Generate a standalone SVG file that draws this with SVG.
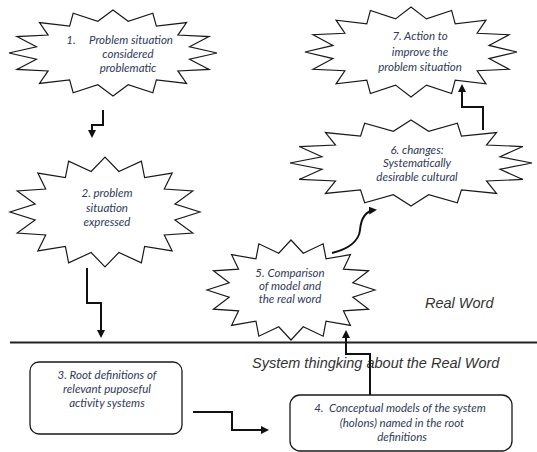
<svg xmlns="http://www.w3.org/2000/svg" xmlns:xlink="http://www.w3.org/1999/xlink" width="537" height="452" viewBox="0 0 537 452">
<style>
.star{fill:#fff;stroke:#1a1a1a;stroke-width:1.2;stroke-linejoin:miter}
.box{fill:#fff;stroke:#1a1a1a;stroke-width:1.3}
.lbl{font-family:Lato,"Open Sans","Liberation Sans",sans-serif;font-style:italic;font-size:11.5px;fill:#2f3a5a;text-anchor:middle}
.big{font-family:"Liberation Sans",Arial,sans-serif;font-style:italic;font-size:14.5px;fill:#333}
.conn{fill:none;stroke:#111;stroke-width:2}
</style>
<defs>
<polygon id="starShape" class="star" vector-effect="non-scaling-stroke" points="100,0 73.6,14.6 92.4,38.3 62.4,41.7 70.7,70.7 41.7,62.4 38.3,92.4 14.6,73.6 0,100 -14.6,73.6 -38.3,92.4 -41.7,62.4 -70.7,70.7 -62.4,41.7 -92.4,38.3 -73.6,14.6 -100,0 -73.6,-14.6 -92.4,-38.3 -62.4,-41.7 -70.7,-70.7 -41.7,-62.4 -38.3,-92.4 -14.6,-73.6 0,-100 14.6,-73.6 38.3,-92.4 41.7,-62.4 70.7,-70.7 62.4,-41.7 92.4,-38.3 73.6,-14.6"/>
<marker id="arr" markerWidth="8" markerHeight="8" refX="6" refY="4" orient="auto" markerUnits="userSpaceOnUse">
<path d="M0,0 L8,4 L0,8 z" fill="#111"/>
</marker>
</defs>

<line x1="10" y1="342.5" x2="537" y2="342.5" stroke="#222" stroke-width="2"/>
<text class="big" x="425" y="308">Real Word</text>
<text class="big" x="252" y="368">System thingking about the Real Word</text>

<g id="node1">
<use xlink:href="#starShape" transform="translate(113,53) scale(1.04,0.43)"/>
<text class="lbl"><tspan x="71" y="44">1.</tspan><tspan x="131" y="44">Problem situation</tspan><tspan x="128" y="58">considered</tspan><tspan x="128" y="72">problematic</tspan></text>
</g>

<g id="node2">
<use xlink:href="#starShape" transform="translate(105,212) scale(0.95,0.55)"/>
<text class="lbl"><tspan x="107" y="197">2. problem</tspan><tspan x="107" y="212">situation</tspan><tspan x="107" y="226">expressed</tspan></text>
</g>

<g id="node7">
<use xlink:href="#starShape" transform="translate(411,52) scale(1.06,0.45)"/>
<text class="lbl"><tspan x="420" y="40">7. Action to</tspan><tspan x="420" y="56">improve the</tspan><tspan x="420" y="71">problem situation</tspan></text>
</g>

<g id="node6">
<use xlink:href="#starShape" transform="translate(411,163) scale(1.21,0.43)"/>
<text class="lbl"><tspan x="417" y="154">6. changes:</tspan><tspan x="417" y="167">Systematically</tspan><tspan x="417" y="181">desirable cultural</tspan></text>
</g>

<g id="node5">
<use xlink:href="#starShape" transform="translate(291,290) scale(0.84,0.50)"/>
<text class="lbl"><tspan x="290" y="277">5. Comparison</tspan><tspan x="290" y="290">of model and</tspan><tspan x="290" y="303">the real word</tspan></text>
</g>

<g id="node3">
<rect class="box" x="30" y="362" width="152" height="72" rx="9"/>
<text class="lbl"><tspan x="107" y="379">3. Root definitions of</tspan><tspan x="107" y="393">relevant puposeful</tspan><tspan x="107" y="407">activity systems</tspan></text>
</g>

<g id="node4">
<rect class="box" x="290" y="395" width="222" height="56" rx="10"/>
<text class="lbl" xml:space="preserve"><tspan x="400" y="412">4.  Conceptual models of the system</tspan><tspan x="402" y="427">(holons) named in the root</tspan><tspan x="402" y="441">definitions</tspan></text>
</g>

<g id="connectors">
<path class="conn" d="M103,110 V125 H92 V136" marker-end="url(#arr)"/>
<path class="conn" d="M87,268 V303 H101 V336" marker-end="url(#arr)"/>
<path class="conn" d="M193,412 H232 V430 H267" marker-end="url(#arr)"/>
<path class="conn" d="M370,395 V354 H346 V332" marker-end="url(#arr)"/>
<path class="conn" d="M332,253 C348,249 359,241 360,230 C361,218 365,211 375,210" marker-end="url(#arr)"/>
<path class="conn" d="M483,130 V107 H462 V86" marker-end="url(#arr)"/>
</g>
</svg>
